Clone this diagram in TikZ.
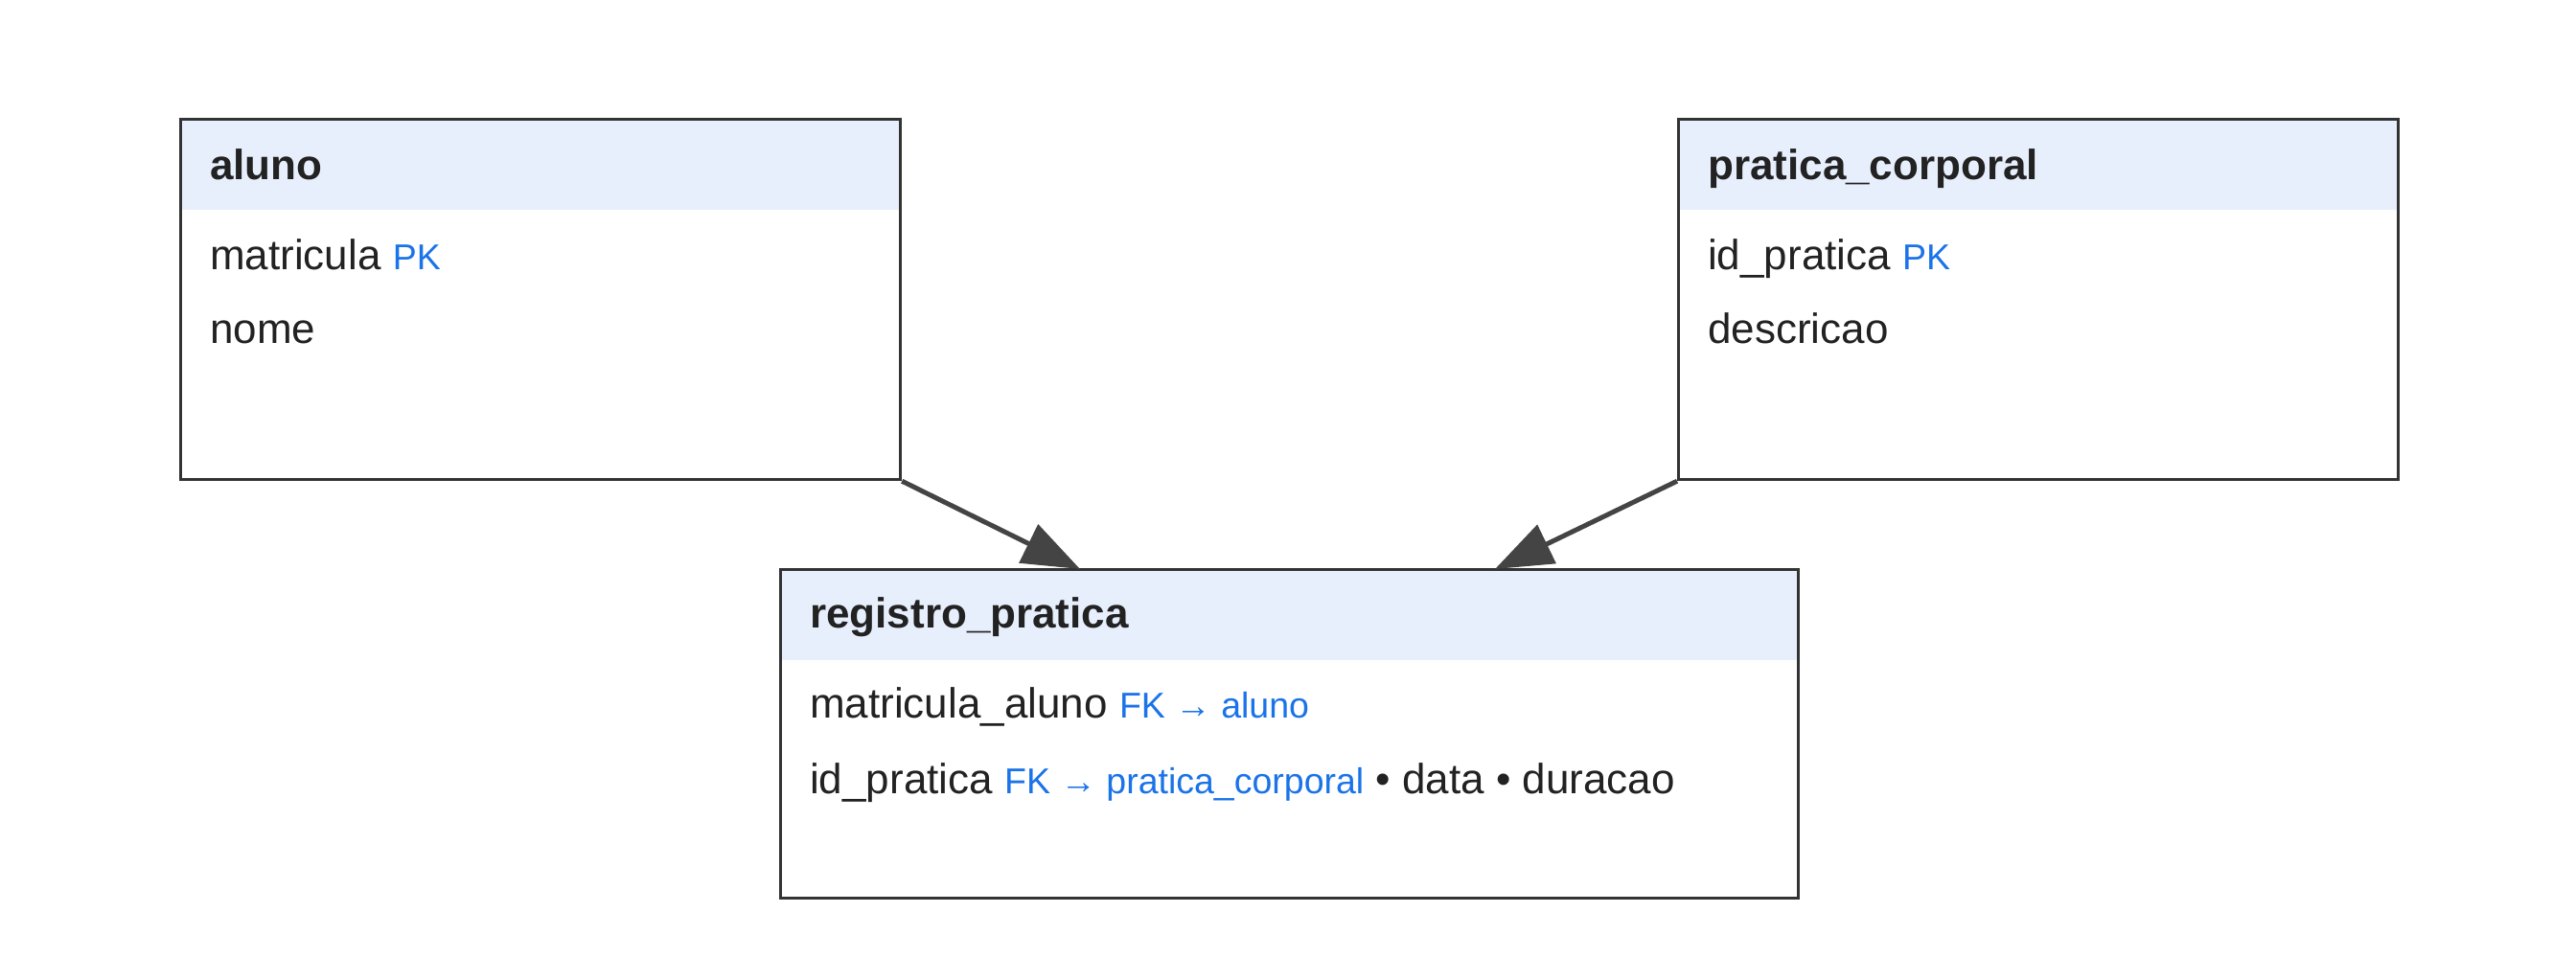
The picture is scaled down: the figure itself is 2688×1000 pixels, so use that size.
\documentclass[tikz,border=0pt]{standalone}
\usepackage{fontspec}
\setmainfont{Liberation Sans}
\usetikzlibrary{arrows.meta}
\definecolor{hdrfill}{RGB}{232,239,252}
\definecolor{boxline}{RGB}{51,51,51}
\definecolor{conncol}{RGB}{68,68,68}
\definecolor{keyblue}{RGB}{26,115,232}
\definecolor{txt}{RGB}{34,34,34}
\newcommand{\keytxt}[1]{{\color{keyblue}\fontsize{37.5}{45}\selectfont #1}}
\tikzset{
  tablebox/.style={draw=boxline, line width=3.2pt, anchor=north west, inner sep=0pt,
    path picture={\fill[hdrfill] (path picture bounding box.north west) rectangle ([yshift=-94pt]path picture bounding box.north east);}},
  titletxt/.style={anchor=base west, inner sep=0pt, text=txt, font=\fontsize{44}{52}\selectfont\bfseries},
  rowtxt/.style={anchor=base west, inner sep=0pt, text=txt, font=\fontsize{44}{52}\selectfont},
  conn/.style={draw=conncol, line width=5pt, -{Triangle[length=60pt,width=44pt]}}
}
\begin{document}
\begin{tikzpicture}[x=1pt,y=-1pt]
\useasboundingbox (0,0) rectangle (2688,1000);
% tables
\node[tablebox, minimum width=751pt, minimum height=376pt] (aluno) at (187,123) {};
\node[tablebox, minimum width=751pt, minimum height=376pt] (pratica) at (1750,123) {};
\node[tablebox, minimum width=1062pt, minimum height=343pt] (registro) at (813,593) {};
% aluno texts
\node[titletxt] (aT) at (219,188) {aluno};
\node[rowtxt] (a1) at (219,282) {matricula \keytxt{PK}};
\node[rowtxt] (a2) at (219,358) {nome};
% pratica texts
\node[titletxt] (pT) at (1782,188) {pratica\_corporal};
\node[rowtxt] (p1) at (1782,282) {id\_pratica \keytxt{PK}};
\node[rowtxt] (p2) at (1782,358) {descricao};
% registro texts
\node[titletxt] (rT) at (845,655) {registro\_pratica};
\node[rowtxt] (r1) at (845,749) {matricula\_aluno \keytxt{FK → aluno}};
\node[rowtxt] (r2) at (845,828) {id\_pratica \keytxt{FK → pratica\_corporal} • data • duracao};
% connectors
\coordinate (t1) at (1127,594);
\coordinate (t2) at (1560,594);
\draw[conn] (aluno.south east) -- (t1);
\draw[conn] (pratica.south west) -- (t2);
\end{tikzpicture}
\end{document}
